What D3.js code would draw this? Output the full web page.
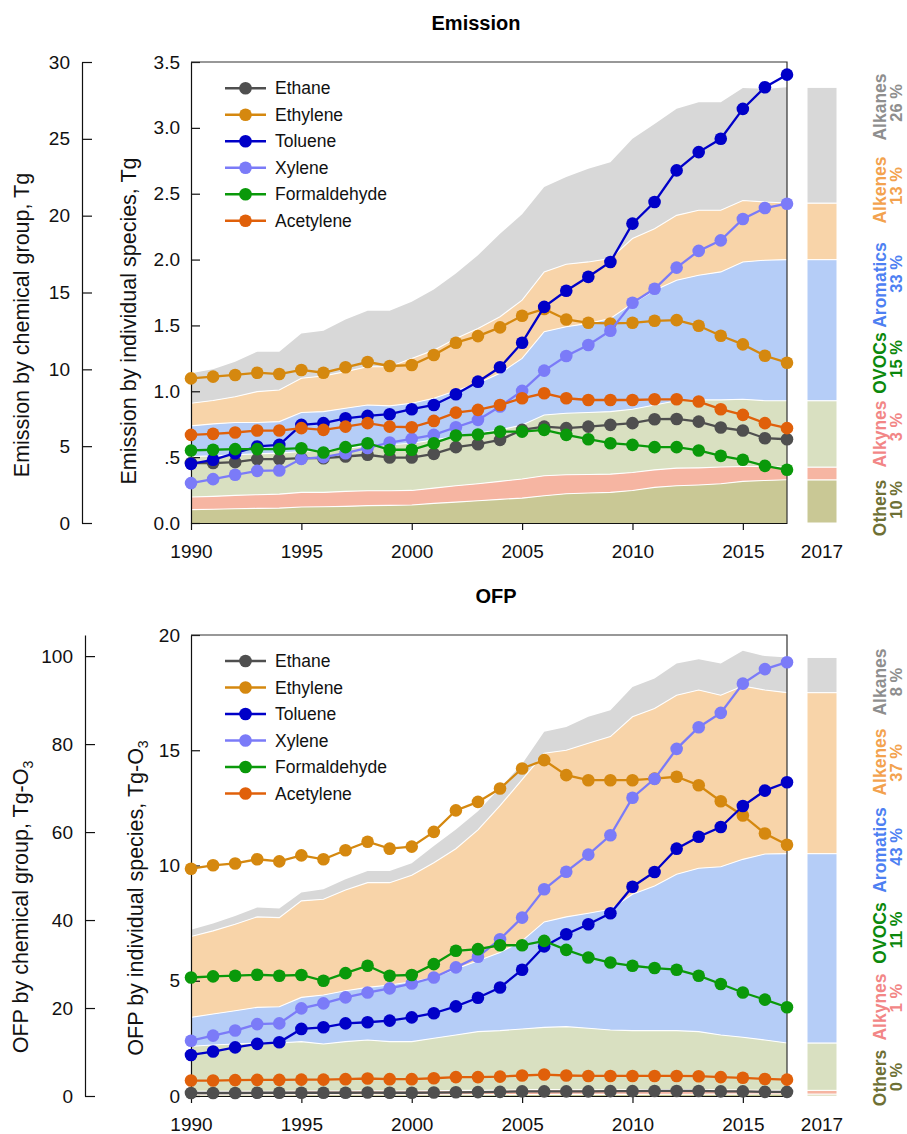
<!DOCTYPE html>
<html><head><meta charset="utf-8">
<script src="https://cdn.jsdelivr.net/npm/d3@7"></script>
<style>
body{margin:0;background:#fff;}
svg{display:block;font-family:"Liberation Sans",Arial,Helvetica,sans-serif;}
</style></head><body>
<svg id="c" width="907" height="1134"></svg>
<script>
// ---------- categories ----------
const years = [1990,1991,1992,1993,1994,1995,1996,1997,1998,1999,2000,2001,2002,2003,2004,2005,2006,2007,2008,2009,2010,2011,2012,2013,2014,2015,2016,2017];
const species = ["Ethane","Ethylene","Toluene","Xylene","Formaldehyde","Acetylene"];
const groups = ["Others","Alkynes","OVOCs","Aromatics","Alkenes","Alkanes"];
const xTickYears = [1990,1995,2000,2005,2010,2015];
const barLabel = "2017";

// ---------- Emission: individual species (Tg) ----------
const emEthane       = [0.455,0.455,0.462,0.485,0.485,0.492,0.492,0.505,0.518,0.497,0.497,0.525,0.576,0.598,0.631,0.707,0.732,0.720,0.732,0.745,0.758,0.788,0.790,0.770,0.725,0.702,0.644,0.636];
const emEthylene     = [1.098,1.111,1.124,1.141,1.131,1.162,1.141,1.182,1.222,1.192,1.199,1.275,1.369,1.419,1.485,1.573,1.625,1.545,1.520,1.515,1.520,1.535,1.540,1.497,1.422,1.356,1.270,1.217];
const emToluene      = [0.449,0.480,0.530,0.581,0.593,0.745,0.758,0.795,0.813,0.826,0.864,0.896,0.977,1.073,1.182,1.369,1.641,1.763,1.869,1.982,2.273,2.437,2.677,2.816,2.917,3.144,3.308,3.404];
const emXylene       = [0.303,0.333,0.366,0.396,0.399,0.487,0.500,0.530,0.570,0.611,0.639,0.669,0.727,0.783,0.884,1.003,1.157,1.268,1.351,1.460,1.672,1.778,1.939,2.066,2.146,2.308,2.391,2.424];
const emFormaldehyde = [0.551,0.556,0.561,0.561,0.561,0.568,0.535,0.576,0.606,0.556,0.556,0.606,0.664,0.672,0.694,0.694,0.707,0.669,0.636,0.606,0.593,0.576,0.576,0.551,0.510,0.480,0.434,0.404];
const emAcetylene    = [0.669,0.677,0.687,0.702,0.702,0.720,0.707,0.732,0.758,0.732,0.727,0.775,0.838,0.859,0.896,0.947,0.985,0.947,0.934,0.934,0.934,0.939,0.939,0.922,0.864,0.821,0.758,0.720];

// ---------- Emission: chemical groups (Tg) ----------
const emOthers    = [0.87,0.89,0.93,0.95,0.97,1.04,1.06,1.08,1.13,1.15,1.17,1.28,1.36,1.45,1.54,1.62,1.77,1.90,1.95,1.99,2.12,2.32,2.42,2.47,2.55,2.71,2.77,2.81];
const emAlkynes   = [0.82,0.84,0.87,0.89,0.91,0.95,0.93,0.98,0.97,0.95,0.95,0.99,1.06,1.10,1.17,1.24,1.30,1.24,1.21,1.19,1.17,1.14,1.15,1.12,1.09,0.97,0.91,0.83];
const emOVOCs     = [2.64,2.64,2.64,2.66,2.67,2.66,2.73,2.81,2.92,2.99,3.07,3.14,3.21,3.29,3.35,3.52,3.96,4.00,4.03,4.07,4.11,4.22,4.39,4.42,4.37,4.37,4.28,4.32];
const emAromatics = [1.99,2.08,2.10,2.04,2.05,2.54,2.53,2.60,2.66,2.53,2.60,2.71,2.98,3.25,3.68,4.33,5.42,5.63,5.80,6.06,6.89,7.47,7.84,8.11,8.33,8.94,9.14,9.18];
const emAlkenes   = [1.47,1.52,1.68,2.01,2.06,2.23,2.32,2.38,2.49,2.55,2.92,3.13,3.40,3.57,3.68,3.79,3.89,4.07,4.00,3.90,4.22,4.00,4.22,4.23,4.01,4.00,3.79,3.68];
const emAlkanes   = [1.95,2.03,2.28,2.60,2.49,2.92,2.94,3.40,3.64,3.64,3.68,3.94,4.22,4.76,5.41,5.59,5.52,5.67,6.06,6.27,6.49,6.82,6.93,7.03,7.03,7.32,7.36,7.53];
const emPct = ["10 %","3 %","15 %","33 %","13 %","26 %"];

// ---------- OFP: individual species (Tg-O3) ----------
const ofpEthane       = [0.13,0.13,0.13,0.14,0.14,0.14,0.14,0.14,0.15,0.14,0.14,0.15,0.16,0.17,0.18,0.20,0.20,0.20,0.20,0.21,0.21,0.22,0.22,0.22,0.20,0.20,0.18,0.18];
const ofpEthylene     = [9.86,10.01,10.09,10.27,10.18,10.44,10.27,10.66,11.03,10.73,10.82,11.46,12.39,12.76,13.34,14.21,14.57,13.92,13.70,13.70,13.70,13.77,13.85,13.48,12.79,12.17,11.39,10.90];
const ofpToluene      = [1.78,1.93,2.11,2.26,2.33,2.91,2.98,3.15,3.20,3.27,3.41,3.59,3.89,4.26,4.71,5.48,6.49,7.02,7.45,7.93,9.08,9.72,10.73,11.25,11.67,12.58,13.25,13.61];
const ofpXylene       = [2.40,2.62,2.84,3.12,3.15,3.80,4.02,4.28,4.49,4.67,4.88,5.14,5.58,6.04,6.80,7.74,8.97,9.73,10.47,11.31,12.94,13.76,15.06,16.00,16.62,17.89,18.52,18.82];
const ofpFormaldehyde = [5.14,5.19,5.22,5.26,5.22,5.25,5.00,5.33,5.65,5.22,5.25,5.72,6.30,6.37,6.54,6.54,6.73,6.34,6.01,5.79,5.65,5.55,5.48,5.22,4.86,4.49,4.18,3.85];
const ofpAcetylene    = [0.67,0.67,0.69,0.70,0.70,0.71,0.71,0.73,0.76,0.73,0.73,0.77,0.82,0.82,0.84,0.89,0.93,0.89,0.87,0.87,0.87,0.87,0.87,0.86,0.82,0.79,0.74,0.71];

// ---------- OFP: chemical groups (Tg-O3) ----------
const ofpOthers    = [0.25,0.25,0.26,0.26,0.26,0.27,0.27,0.27,0.28,0.28,0.28,0.29,0.30,0.31,0.32,0.33,0.35,0.36,0.36,0.37,0.38,0.40,0.41,0.41,0.42,0.43,0.44,0.44];
const ofpAlkynes   = [0.80,0.80,0.82,0.83,0.83,0.85,0.85,0.87,0.90,0.87,0.87,0.92,0.98,0.98,1.01,1.06,1.10,1.06,1.04,1.04,1.04,1.04,1.03,1.02,0.98,0.94,0.88,0.85];
const ofpOVOCs     = [10.25,10.56,10.75,10.97,10.97,11.24,10.71,11.22,11.56,11.21,11.21,11.91,12.59,13.34,13.53,13.85,14.16,14.34,13.99,13.60,13.44,13.42,13.42,13.20,12.47,11.98,11.42,10.77];
const ofpAromatics = [6.58,7.03,7.56,8.09,8.24,10.06,11.12,11.57,11.95,12.86,13.61,13.83,14.98,16.11,17.77,20.03,23.97,24.96,26.16,27.45,31.00,32.89,35.53,37.13,38.26,40.45,42.26,43.04];
const ofpAlkenes   = [18.37,18.90,19.66,20.57,20.26,21.93,21.77,22.91,23.81,23.28,24.20,26.09,27.37,29.76,33.37,36.63,38.32,37.88,38.65,39.24,40.34,40.35,40.71,40.54,38.97,39.40,37.30,36.60];
const ofpAlkanes   = [1.52,1.66,1.89,2.11,2.05,1.89,2.27,2.42,2.65,2.65,2.72,3.78,4.38,4.26,4.00,3.60,4.90,5.30,6.00,6.00,6.80,6.80,7.20,7.00,7.20,8.00,7.70,8.00];
const ofpPct = ["0 %","1 %","11 %","43 %","37 %","8 %"];

// ---------- tick labels ----------
const emOuterTicks = [0,5,10,15,20,25,30];
const emInnerTicks = [0,0.5,1,1.5,2,2.5,3,3.5];
const emInnerLabels = ["0.0",".5","1.0","1.5","2.0","2.5","3.0","3.5"];
const ofpOuterTicks = [0,20,40,60,80,100];
const ofpInnerTicks = [0,5,10,15,20];
const ofpInnerLabels = ["0","5","10","15","20"];

// ---------- styles ----------
const speciesColor = {Ethane:"#4f4f4f",Ethylene:"#d5880f",Toluene:"#0000c8",Xylene:"#7b7bf8",Formaldehyde:"#0a990a",Acetylene:"#e0600a"};
const groupFill = {Others:"#c9c895",Alkynes:"#f6b5a2",OVOCs:"#d9e0c1",Aromatics:"#b5cdf7",Alkenes:"#f8d4a9",Alkanes:"#d8d8d8"};
const groupText = {Others:"#6e7035",Alkynes:"#f28686",OVOCs:"#0b880b",Aromatics:"#4d80f2",Alkenes:"#f3a24e",Alkanes:"#8e8e8e"};
const FONT = '"Liberation Sans",Arial,Helvetica,sans-serif';

const svg = d3.select("#c");
const x = d3.scaleLinear().domain([1990,2017]).range([191,787]);

function drawPanel(cfg){
  const g = svg.append("g");
  const yO = d3.scaleLinear().domain([0,cfg.outerMax]).range([cfg.bottom,cfg.top]);
  const yI = d3.scaleLinear().domain([0,cfg.innerMax]).range([cfg.bottom,cfg.top]);

  // stacked areas
  const rows = years.map((yr,i)=>{const r={year:yr}; groups.forEach(k=>r[k]=cfg.groups[k][i]); return r;});
  const stacked = d3.stack().keys(groups)(rows);
  const area = d3.area().x(d=>x(d.data.year)).y0(d=>yO(d[0])).y1(d=>yO(d[1]));
  g.selectAll("path.area").data(stacked).join("path")
    .attr("d",area).attr("fill",d=>groupFill[d.key]).attr("stroke","none");
  const topLine = d3.line().x(d=>x(d.data.year)).y(d=>yO(d[1]));
  g.selectAll("path.sep").data(stacked.slice(0,groups.length-1)).join("path")
    .attr("d",topLine).attr("fill","none").attr("stroke","#fff").attr("stroke-width",1.1);

  // 2017 stacked bar
  const last = years.length-1;
  g.selectAll("rect.bar").data(stacked).join("rect")
    .attr("x",807).attr("width",30)
    .attr("y",d=>yO(d[last][1])).attr("height",d=>yO(d[last][0])-yO(d[last][1]))
    .attr("fill",d=>groupFill[d.key]).attr("stroke","#fff").attr("stroke-width",1);

  // axes
  const ax = d3.axisLeft(yO).tickValues(cfg.outerTicks).tickFormat(d3.format("d")).tickSize(-10).tickSizeOuter(0).tickPadding(12);
  const ga = g.append("g").attr("transform",`translate(${cfg.outerX},0)`).call(ax);
  const ai = d3.axisLeft(yI).tickValues(cfg.innerTicks).tickFormat((d,i)=>cfg.innerLabels[i]).tickSize(-9).tickSizeOuter(0).tickPadding(11);
  const gi = g.append("g").attr("transform","translate(191,0)").call(ai);
  const axb = d3.axisBottom(x).tickValues(xTickYears).tickFormat(d3.format("d")).tickSize(7).tickSizeOuter(0).tickPadding(15);
  const gb = g.append("g").attr("transform",`translate(0,${cfg.bottom})`).call(axb);
  [ga,gi,gb].forEach(a=>{
    a.attr("font-family",null).attr("font-size",null);
    a.selectAll("text").style("font-family",FONT).style("font-size","19px").attr("fill","#111");
    a.selectAll("line,path").attr("stroke","#111").attr("stroke-width",1.2);
  });
  // box top/right
  g.append("path").attr("d",`M191,${cfg.top}H787V${cfg.bottom}`).attr("fill","none").attr("stroke","#333").attr("stroke-width",1.2);
  // 2017 label
  g.append("text").attr("x",822).attr("y",cfg.bottom+7+15).attr("dy","0.71em").attr("text-anchor","middle")
    .style("font-family",FONT).style("font-size","19px").attr("fill","#111").text(barLabel);

  // species lines
  species.forEach(s=>{
    const vals = cfg.species[s];
    const pts = years.map((yr,i)=>({year:yr,v:vals[i]}));
    g.append("path").datum(pts).attr("d",d3.line().x(d=>x(d.year)).y(d=>yI(d.v)))
      .attr("fill","none").attr("stroke",speciesColor[s]).attr("stroke-width",2.3);
    g.selectAll(null).data(pts).join("circle").attr("cx",d=>x(d.year)).attr("cy",d=>yI(d.v))
      .attr("r",6.3).attr("fill",speciesColor[s]);
  });

  // legend
  species.forEach((s,i)=>{
    const ly = cfg.legendY + i*26.5;
    g.append("line").attr("x1",225).attr("x2",266).attr("y1",ly).attr("y2",ly).attr("stroke",speciesColor[s]).attr("stroke-width",2.6);
    g.append("circle").attr("cx",245.5).attr("cy",ly).attr("r",6.3).attr("fill",speciesColor[s]);
    g.append("text").attr("x",275).attr("y",ly).attr("dominant-baseline","central")
      .style("font-family",FONT).style("font-size","17.5px").attr("fill","#111").text(s);
  });

  // group labels (rotated)
  groups.forEach((k,i)=>{
    g.append("text").attr("transform",`translate(886,${cfg.nameY[i]}) rotate(-90)`).attr("text-anchor","middle")
      .style("font-family",FONT).style("font-size","17.5px").style("font-weight","bold").attr("fill",groupText[k]).text(k);
    g.append("text").attr("transform",`translate(902,${cfg.pctY[i]}) rotate(-90)`).attr("text-anchor","middle")
      .style("font-family",FONT).style("font-size","16.5px").style("font-weight","bold").attr("fill",groupText[k]).text(cfg.pct[i]);
  });

  // title
  g.append("text").attr("x",cfg.titleX).attr("y",cfg.titleY).attr("text-anchor","middle")
    .style("font-family",FONT).style("font-size","20px").style("font-weight","bold").attr("fill","#000").text(cfg.title);

  // axis titles
  function axTitle(xp,yp,txt,sub){
    const t = g.append("text").attr("transform",`translate(${xp},${yp}) rotate(-90)`).attr("text-anchor","middle")
      .style("font-family",FONT).style("font-size","21.5px").attr("fill","#111");
    t.append("tspan").text(txt);
    if(sub){ t.append("tspan").attr("dy","0.35em").style("font-size","14px").text(sub); }
  }
  axTitle(cfg.oTitleX,cfg.oTitleY,cfg.oTitle,cfg.sub);
  axTitle(cfg.iTitleX,cfg.iTitleY,cfg.iTitle,cfg.sub);
}

drawPanel({
  top:62,bottom:523,outerMax:30,innerMax:3.5,outerX:82,
  outerTicks:emOuterTicks,innerTicks:emInnerTicks,innerLabels:emInnerLabels,
  groups:{Others:emOthers,Alkynes:emAlkynes,OVOCs:emOVOCs,Aromatics:emAromatics,Alkenes:emAlkenes,Alkanes:emAlkanes},
  species:{Ethane:emEthane,Ethylene:emEthylene,Toluene:emToluene,Xylene:emXylene,Formaldehyde:emFormaldehyde,Acetylene:emAcetylene},
  legendY:88.3, pct:emPct,
  nameY:[508,434,363,285,190,107], pctY:[500,427,359,274,186,103],
  title:"Emission",titleX:476,titleY:30,
  oTitle:"Emission by chemical group, Tg",oTitleX:28.5,oTitleY:325,
  iTitle:"Emission by individual species, Tg",iTitleX:135.5,iTitleY:321,sub:null
});
drawPanel({
  top:635,bottom:1096,outerMax:104.8,innerMax:20,outerX:85,
  outerTicks:ofpOuterTicks,innerTicks:ofpInnerTicks,innerLabels:ofpInnerLabels,
  groups:{Others:ofpOthers,Alkynes:ofpAlkynes,OVOCs:ofpOVOCs,Aromatics:ofpAromatics,Alkenes:ofpAlkenes,Alkanes:ofpAlkanes},
  species:{Ethane:ofpEthane,Ethylene:ofpEthylene,Toluene:ofpToluene,Xylene:ofpXylene,Formaldehyde:ofpFormaldehyde,Acetylene:ofpAcetylene},
  legendY:661, pct:ofpPct,
  nameY:[1078,1007,933,850,762,682], pctY:[1077,998,930,847,763,682],
  title:"OFP",titleX:496,titleY:603,
  oTitle:"OFP by chemical group, Tg-O",oTitleX:28,oTitleY:907,
  iTitle:"OFP by individual species, Tg-O",iTitleX:143,iTitleY:898,sub:"3"
});
</script>
</body></html>
